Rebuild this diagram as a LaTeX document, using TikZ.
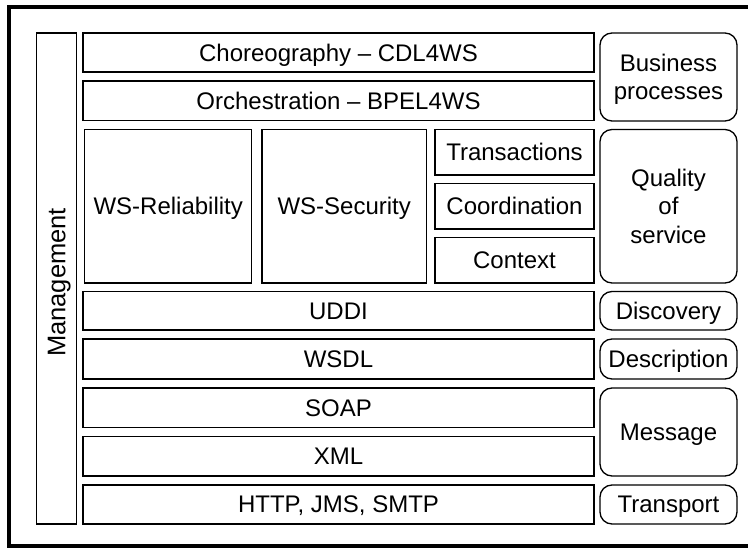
\documentclass[tikz,border=0pt]{standalone}
\usepackage{fontspec}
\setmainfont{Liberation Sans}
\begin{document}
\begin{tikzpicture}[x=1pt,y=-1pt,
  box/.style={draw, line width=1.3pt, rectangle, inner sep=0pt, outer sep=0pt, align=center,
    text depth=0pt, font=\fontsize{24}{27.5}\selectfont},
  rbox/.style={box, rounded corners=12pt},
  frame/.style={line width=4pt}]
\useasboundingbox (0,0) rectangle (748,548);
\fill[white] (0,0) rectangle (748,548);
\draw[frame] (748,7) -- (9,7) -- (9,545.5) -- (748,545.5);
% management
\node[box, rotate=90, minimum width=491pt, minimum height=39.5pt] (mgmt) at (56.5,278.5) {};
\node[rotate=90, inner sep=0pt, text depth=0pt, font=\fontsize{25.5}{28}\selectfont] (mgmtlabel) at (56.5,282.5) {Management};
% main column
\node[box, minimum width=511pt, minimum height=39pt] (chor) at (338.5,52.5) {Choreography -- CDL4WS};
\node[box, minimum width=511pt, minimum height=39.5pt] (orch) at (338.5,100.75) {Orchestration -- BPEL4WS};
\node[box, minimum width=167pt, minimum height=153.5pt] (rel) at (168.25,206.25) {WS-Reliability};
\node[box, minimum width=164.5pt, minimum height=153.5pt] (sec) at (344.25,206.25) {WS-Security};
\node[box, minimum width=159pt, minimum height=45.5pt] (trans) at (514.5,152.25) {Transactions};
\node[box, minimum width=159pt, minimum height=45.5pt] (coord) at (514.5,206.25) {Coordination};
\node[box, minimum width=159pt, minimum height=45.5pt] (ctx) at (514.5,260.25) {Context};
\node[box, minimum width=511pt, minimum height=38.5pt] (uddi) at (338.5,310.75) {UDDI};
\node[box, minimum width=511pt, minimum height=40pt] (wsdl) at (338.5,359) {WSDL};
\node[box, minimum width=511pt, minimum height=39.5pt] (soap) at (338.5,407.75) {SOAP};
\node[box, minimum width=511pt, minimum height=39.5pt] (xml) at (338.5,456.25) {XML};
\node[box, minimum width=511pt, minimum height=39pt] (http) at (338.5,504.5) {HTTP, JMS, SMTP};
% right column
\node[rbox, minimum width=137pt, minimum height=88pt] (bp) at (668.5,77) {Business\\processes};
\node[rbox, minimum width=137pt, minimum height=153.5pt, font=\fontsize{24}{28.5}\selectfont] (qos) at (668.5,206.25) {Quality\\of\\service};
\node[rbox, minimum width=137pt, minimum height=38.5pt] (disc) at (668.5,310.75) {Discovery};
\node[rbox, minimum width=137pt, minimum height=40pt] (desc) at (668.5,359) {Description};
\node[rbox, minimum width=137pt, minimum height=88pt] (msg) at (668.5,432) {Message};
\node[rbox, minimum width=137pt, minimum height=39pt] (trsp) at (668.5,504.5) {Transport};
\end{tikzpicture}
\end{document}
